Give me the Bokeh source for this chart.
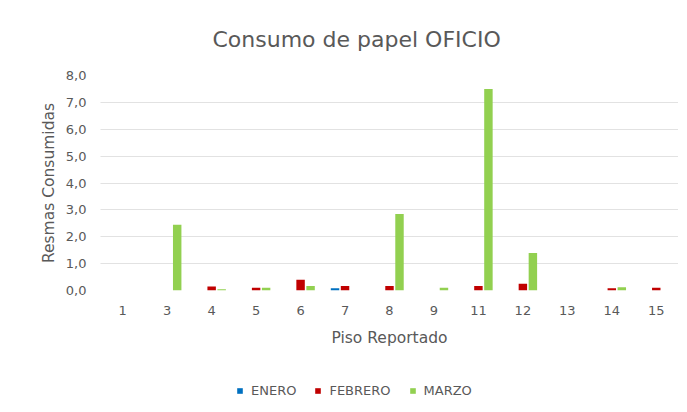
from bokeh.plotting import figure
from bokeh.layouts import column
from bokeh.models import ColumnDataSource, Legend, LegendItem, FixedTicker, CustomJSTickFormatter, Range1d
from bokeh.transform import dodge
from bokeh.embed import file_html
from bokeh.resources import INLINE

pisos = ['1', '3', '4', '5', '6', '7', '8', '9', '11', '12', '13', '14', '15']
enero = [0, 0, 0, 0, 0, 0.08, 0, 0, 0, 0, 0, 0, 0]
febrero = [0, 0, 0.15, 0.1, 0.4, 0.17, 0.17, 0, 0.17, 0.25, 0, 0.08, 0.1]
marzo = [0, 2.45, 0.05, 0.1, 0.17, 0, 2.85, 0.1, 7.5, 1.4, 0, 0.12, 0]
y_ticks = [0, 1, 2, 3, 4, 5, 6, 7, 8]
series = ['ENERO', 'FEBRERO', 'MARZO']
colors = ['#0070C0', '#C00000', '#92D050']

src = ColumnDataSource(dict(piso=pisos, ENERO=enero, FEBRERO=febrero, MARZO=marzo))

FONT = "DejaVu Sans"
GRAY = "#595959"

p = figure(x_range=pisos, y_range=Range1d(0, 8), width=683, height=356,
           output_backend="svg", toolbar_location=None,
           min_border_left=100, min_border_right=5, min_border_top=75, min_border_bottom=66)

p.title.text = "Consumo de papel OFICIO"
p.title.align = "left"
p.title.text_font = FONT
p.title.text_font_size = "22px"
p.title.text_font_style = "normal"
p.title.text_color = GRAY
p.title.offset = 112
p.title.standoff = 48

offsets = [-0.225, 0.0, 0.225]
for s, c, off in zip(series, colors, offsets):
    p.vbar(x=dodge('piso', off, range=p.x_range), top=s, width=0.19, source=src,
           fill_color=c, line_color=None)

p.outline_line_color = None
p.xgrid.grid_line_color = None
p.ygrid.grid_line_color = "#c4c4c4"
p.ygrid.grid_line_dash = "1 1"
p.ygrid.grid_line_width = 1

p.yaxis.ticker = FixedTicker(ticks=y_ticks)
p.yaxis.formatter = CustomJSTickFormatter(code="return tick.toFixed(1).replace('.', ',');")
for ax in (p.xaxis[0], p.yaxis[0]):
    ax.axis_line_color = None
    ax.major_tick_line_color = None
    ax.minor_tick_line_color = None
    ax.major_label_text_font = FONT
    ax.major_label_text_font_size = "13px"
    ax.major_label_text_color = GRAY
    ax.axis_label_text_font = FONT
    ax.axis_label_text_font_style = "normal"
    ax.axis_label_text_color = GRAY
    ax.axis_label_text_font_size = "15.5px"

p.xaxis.axis_label = "Piso Reportado"
p.xaxis.major_label_standoff = 9
p.xaxis.axis_label_standoff = 11
p.yaxis.axis_label = "Resmas Consumidas"
p.yaxis.major_label_standoff = 8
p.yaxis.axis_label_standoff = 5

# legend strip below the chart
q = figure(x_range=p.x_range, y_range=Range1d(100, 101), width=683, height=56,
           output_backend="svg", toolbar_location=None,
           x_axis_location=None, y_axis_location=None,
           min_border_left=0, min_border_right=0, min_border_top=0, min_border_bottom=0)
q.grid.visible = False
q.outline_line_color = None
renderers = []
for s, c, off in zip(series, colors, offsets):
    r = q.vbar(x=dodge('piso', off, range=q.x_range), top=s, width=0.19, source=src,
               fill_color=c, line_color=None)
    renderers.append(r)

legend = Legend(items=[LegendItem(label=s, renderers=[r]) for s, r in zip(series, renderers)],
                orientation="horizontal", location=(136, 14),
                label_text_font=FONT, label_text_font_size="13px", label_text_color=GRAY,
                glyph_width=7, glyph_height=7, label_standoff=8, spacing=18,
                border_line_color=None, background_fill_alpha=0, margin=0, padding=0)
q.add_layout(legend, "center")

layout = column(p, q, spacing=0)
open("out.html", "w").write(file_html(layout, INLINE))
